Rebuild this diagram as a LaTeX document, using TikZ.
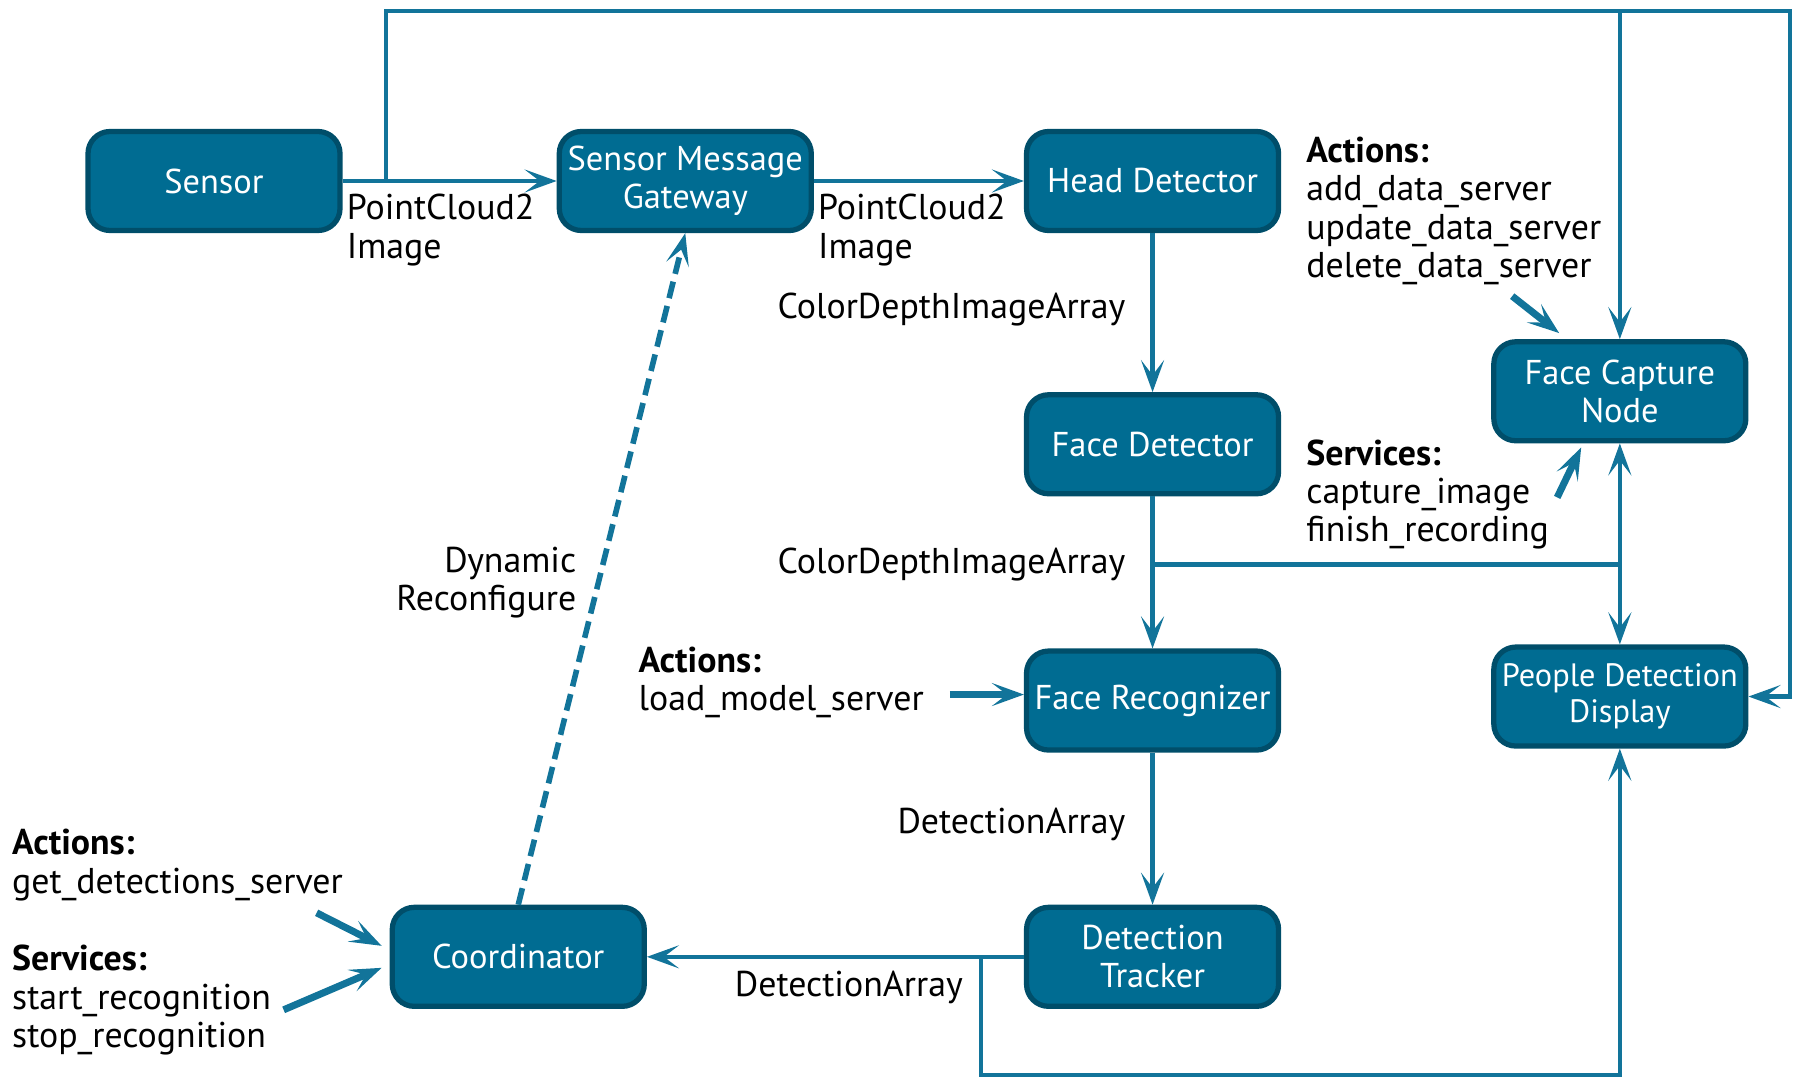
\documentclass[tikz,border=0pt]{standalone}
\usepackage{fontspec}
\setmainfont{PT Sans}
\usepackage{tikz}
\usetikzlibrary{positioning,arrows.meta,calc}
\newcommand{\diafont}{\fontsize{10.2}{10.9}\selectfont}
\newcommand{\boxfont}{\fontsize{9.8}{10.9}\selectfont}
\definecolor{nodefill}{RGB}{0,108,146}
\definecolor{nodeedge}{RGB}{0,78,106}
\definecolor{wirecol}{RGB}{18,116,154}
\tikzset{
  >={Stealth[length=3.2mm,width=2.3mm,inset=1.5mm]},
  node distance=1.52cm and 2.1cm,
  proc/.style={draw=nodeedge,fill=nodefill,line width=1.5pt,rounded corners=2.2mm,
    minimum width=2.52cm,minimum height=0.99cm,text=white,align=center,
    font=\boxfont,inner xsep=0.5pt,inner ysep=2pt},
  wire/.style={draw=wirecol,line width=1.2pt},
  flow/.style={wire,->},
  dflow/.style={wire,->,line width=1.6pt,dash pattern=on 1.7mm off 0.8mm},
  callout/.style={wire,->,line width=2pt},
  lbl/.style={font=\diafont,inner sep=1pt,align=left},
  note/.style={lbl},
}

\begin{document}
\begin{tikzpicture}
  \useasboundingbox (0,0) rectangle (18.02,-10.77);

  % processing nodes
  \node[proc] (sensor) at (2.14,-1.81) {Sensor};
  \node[proc,right=2.14cm of sensor] (smg) {Sensor Message\\Gateway};
  \node[proc,right=of smg] (hd) {Head Detector};
  \node[proc,below=1.59cm of hd] (fd) {Face Detector};
  \node[proc,below=of fd] (fr) {Face Recognizer};
  \node[proc,below=of fr] (dt) {Detection\\Tracker};
  \node[proc,left=3.77cm of dt] (coord) {Coordinator};
  \node[proc,right=of fd,yshift=5.3mm] (fcn) {Face Capture\\Node};
  \node[proc,right=of fr,yshift=0.4mm,font=\fontsize{9.2}{10.2}\selectfont] (pdd) {People Detection\\Display};

  % helper points for the loops
  \coordinate (tap) at ([xshift=4.3mm]sensor.east);
  \coordinate (topR) at (17.9,-0.11);
  \coordinate (split) at ([yshift=-6.8mm]fd.south);
  \coordinate (tap2) at ([xshift=-4.3mm]dt.west);

  % topics
  \draw[flow] (sensor) -- (smg);
  \draw[flow] (tap) -- (tap |- topR) -- (topR) |- (pdd.east);
  \draw[flow] (fcn.north |- topR) -- (fcn.north);
  \draw[flow] (smg) -- (hd);
  \draw[flow] (hd) -- (fd);
  \draw[flow] (fd) -- (fr);
  \draw[flow] (split) -| (fcn.south);
  \draw[flow] (split -| pdd.north) -- (pdd.north);
  \draw[flow] (fr) -- (dt);
  \draw[flow] (dt) -- (coord);
  \draw[flow] (tap2) -- ++(0,-1.18) -| (pdd.south);
  \draw[dflow] (coord.north) -- (smg.south);

  % topic labels
  \node[lbl,anchor=north west] (pc1) at ([xshift=0mm,yshift=-0.9mm]sensor.east) {PointCloud2\\Image};
  \node[lbl,anchor=north west] (pc2) at ([xshift=0mm,yshift=-0.9mm]smg.east) {PointCloud2\\Image};
  \node[lbl,anchor=east,xshift=-2.3mm] (cdia1) at ($(hd.south)!0.48!(fd.north)$) {ColorDepthImageArray};
  \node[lbl,anchor=east,xshift=-2.3mm] (cdia2) at ($(fd.south)!0.45!(fr.north)$) {ColorDepthImageArray};
  \node[lbl,anchor=east,xshift=-2.3mm] (da1) at ($(fr.south)!0.47!(dt.north)$) {DetectionArray};
  \node[lbl,anchor=north east] (da2) at ([xshift=-1.4mm,yshift=-1mm]tap2) {DetectionArray};
  \node[lbl,anchor=east,align=right,xshift=-1.8mm] (dynrec) at ($(coord.north)!0.48!(smg.south)$) {Dynamic\\Reconfigure};

  % actions and services
  \node[note,anchor=north west] (hdnote) at ([xshift=2.1mm,yshift=-0.4mm]hd.north east)
    {\textbf{Actions:}\\add\_data\_server\\update\_data\_server\\delete\_data\_server};
  \node[note,anchor=north west] (fcnnote) at ([xshift=2.1mm,yshift=0.9mm]fd.east)
    {\textbf{Services:}\\capture\_image\\finish\_recording};
  \node[note,anchor=east] (frnote) at ([xshift=-9.6mm,yshift=1.8mm]fr.west)
    {\textbf{Actions:}\\load\_model\_server};
  \node[note,anchor=west] (coordact) at (0.08,-8.65)
    {\textbf{Actions:}\\get\_detections\_server};
  \node[note,anchor=west] (coordsvc) at (0.08,-10.0)
    {\textbf{Services:}\\start\_recognition\\stop\_recognition};

  \draw[callout] ([xshift=2.1mm,yshift=4.3mm]fcn.north west) -- ([xshift=6.8mm,yshift=0.6mm]fcn.north west);
  \draw[callout] ([xshift=6.6mm,yshift=-5.4mm]fcn.south west) -- ([xshift=9mm,yshift=-0.4mm]fcn.south west);
  \draw[callout] ([xshift=-7.4mm,yshift=0.6mm]fr.west) -- ([yshift=0.6mm]fr.west);
  \draw[callout] ([xshift=-7.3mm,yshift=4.4mm]coord.west) -- ([xshift=-0.8mm,yshift=1.1mm]coord.west);
  \draw[callout] ([xshift=-10.6mm,yshift=-5.3mm]coord.west) -- ([xshift=-0.8mm,yshift=-1.1mm]coord.west);
\end{tikzpicture}
\end{document}
